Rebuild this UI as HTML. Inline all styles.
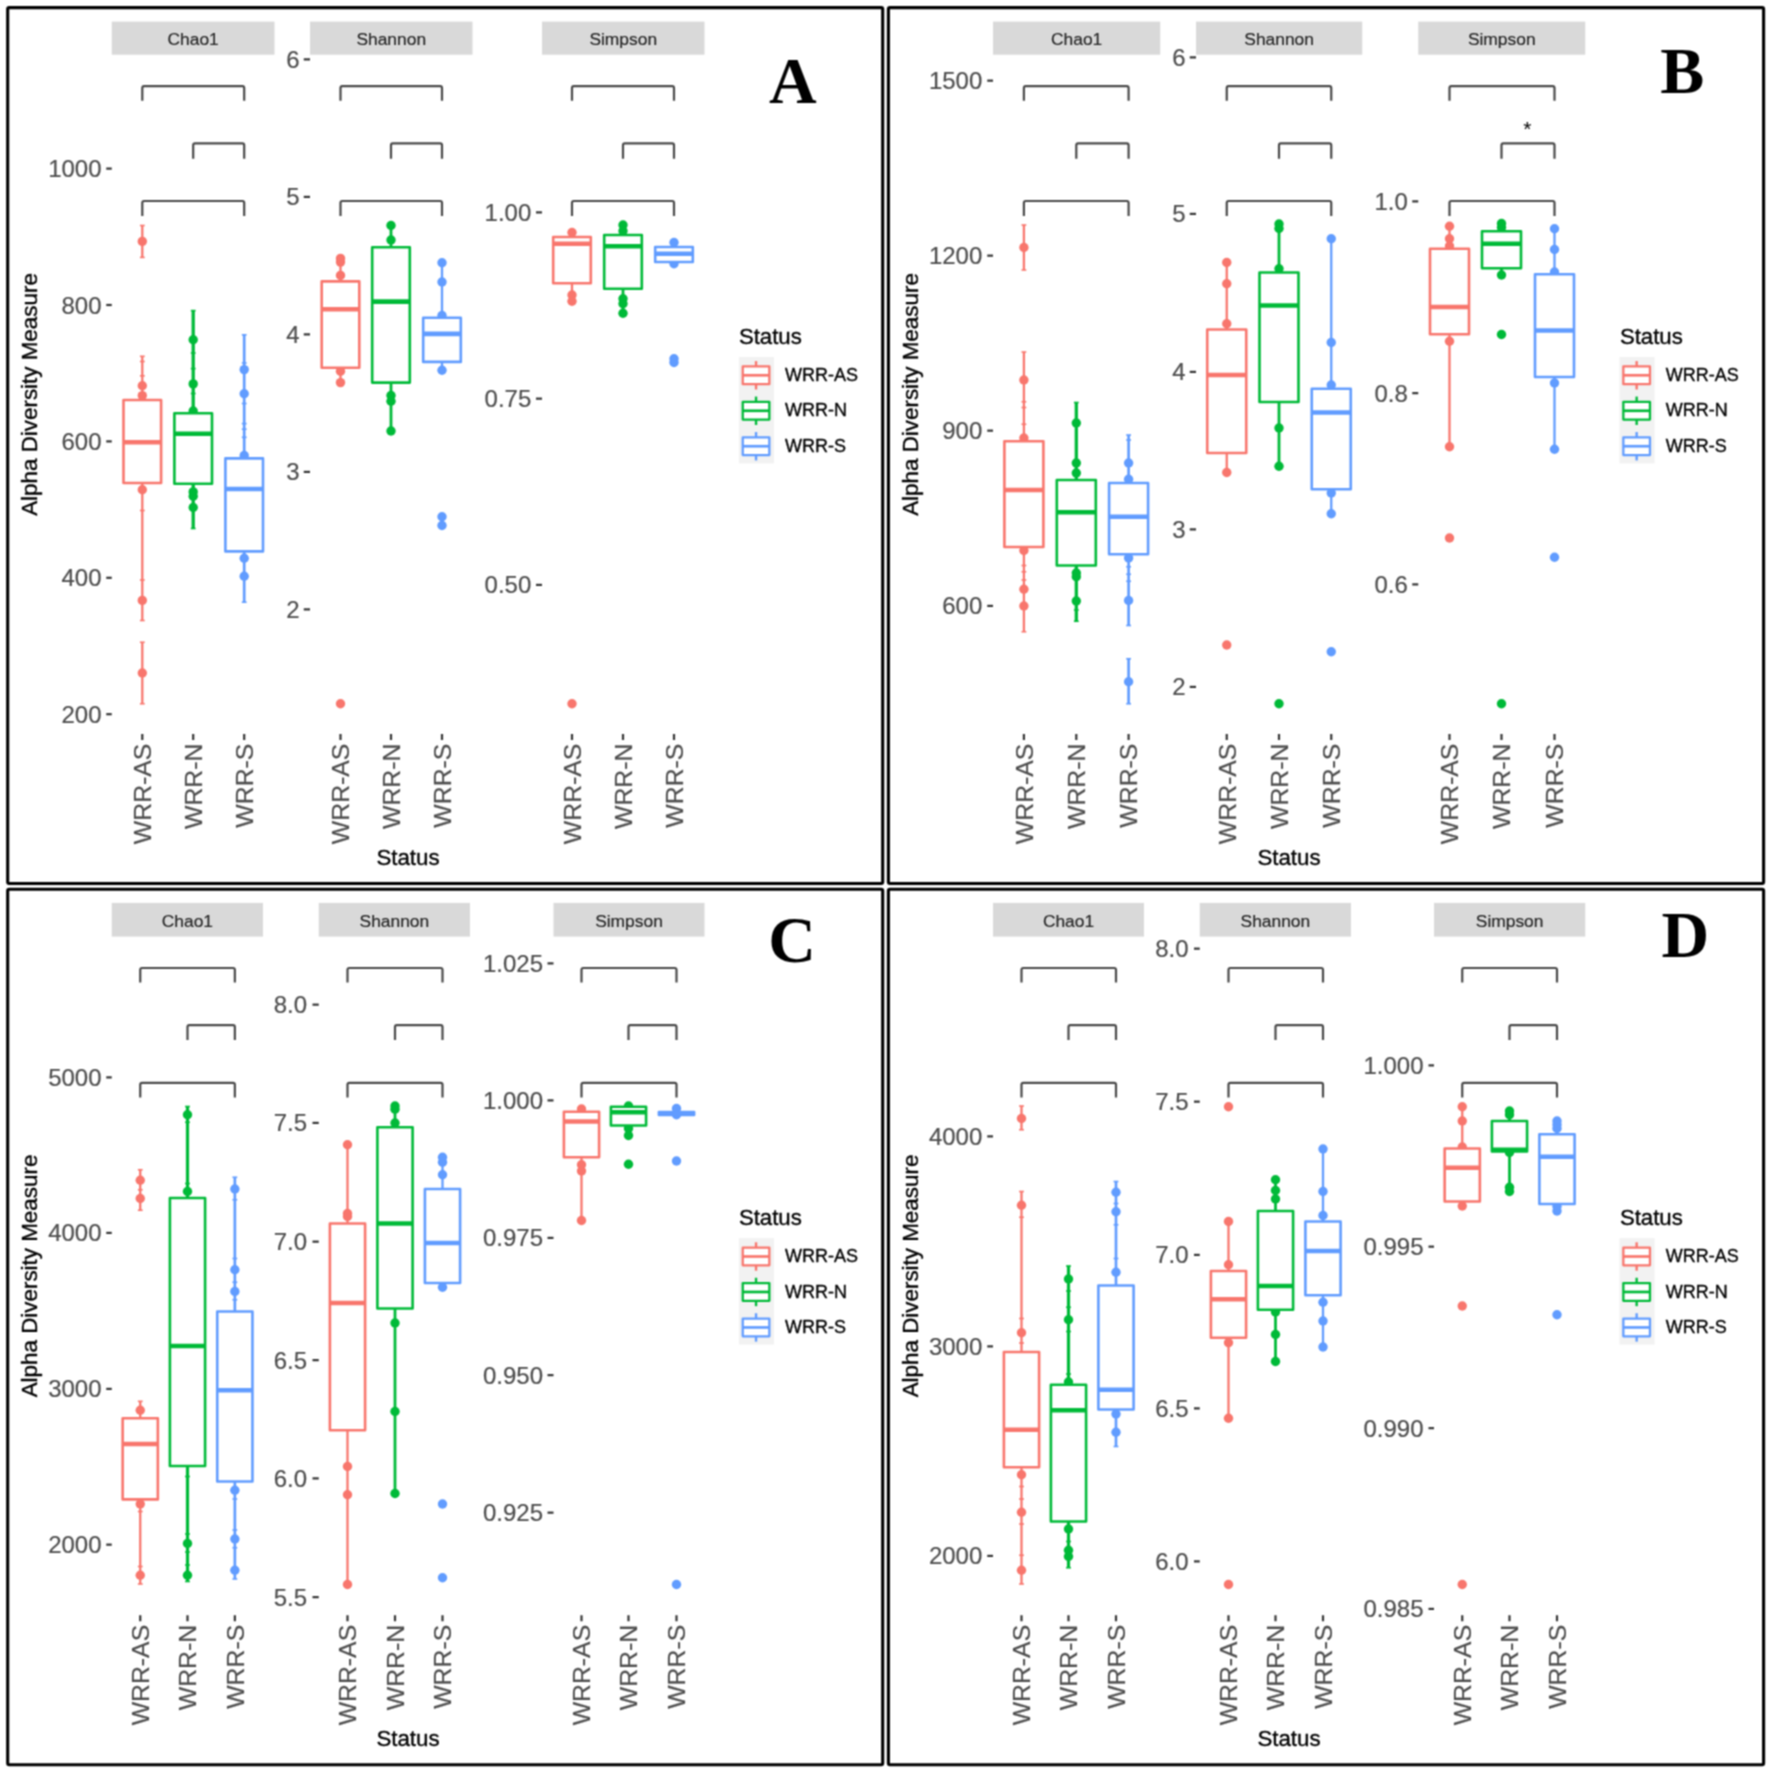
<!DOCTYPE html>
<html><head><meta charset="utf-8"><title>Alpha diversity</title>
<style>
html,body{margin:0;padding:0;background:#fff}
svg{display:block;font-family:"Liberation Sans",sans-serif}
text{stroke-linejoin:round}
.ax{stroke:#4d4d4d;stroke-width:0.2px}.bk{stroke:#000;stroke-width:0.35px}.st{stroke:#222;stroke-width:0.15px}
</style></head><body>
<svg width="1772" height="1773" viewBox="0 0 1772 1773">
<defs><filter id="soft" x="0" y="0" width="1772" height="1773" filterUnits="userSpaceOnUse" color-interpolation-filters="sRGB"><feConvolveMatrix order="3" kernelMatrix="1 2 1 2 4 2 1 2 1" divisor="16" edgeMode="duplicate" preserveAlpha="true"/></filter></defs>
<g filter="url(#soft)">
<rect width="1772" height="1773" fill="#fff"/>
<rect x="7.7" y="7.6" width="875" height="875.9" fill="#fff" stroke="#000" stroke-width="3.1" rx="1.5"/>
<rect x="111.75" y="21.6" width="162.75" height="33.1" fill="#d9d9d9"/>
<text x="193.12" y="45.25" font-size="17.4" fill="#222" class="st" text-anchor="middle">Chao1</text>
<text x="101.55" y="177.19" font-size="24.0" fill="#4d4d4d" class="ax" text-anchor="end">1000</text>
<line x1="106.25" x2="111.75" y1="168.6" y2="168.6" stroke="#333" stroke-width="2.2"/>
<text x="101.55" y="313.59" font-size="24.0" fill="#4d4d4d" class="ax" text-anchor="end">800</text>
<line x1="106.25" x2="111.75" y1="305" y2="305" stroke="#333" stroke-width="2.2"/>
<text x="101.55" y="449.99" font-size="24.0" fill="#4d4d4d" class="ax" text-anchor="end">600</text>
<line x1="106.25" x2="111.75" y1="441.4" y2="441.4" stroke="#333" stroke-width="2.2"/>
<text x="101.55" y="586.39" font-size="24.0" fill="#4d4d4d" class="ax" text-anchor="end">400</text>
<line x1="106.25" x2="111.75" y1="577.8" y2="577.8" stroke="#333" stroke-width="2.2"/>
<text x="101.55" y="722.79" font-size="24.0" fill="#4d4d4d" class="ax" text-anchor="end">200</text>
<line x1="106.25" x2="111.75" y1="714.2" y2="714.2" stroke="#333" stroke-width="2.2"/>
<path d="M142.3 100.8 V88 Q142.3 86.2 144.1 86.2 H242.4 Q244.2 86.2 244.2 88 V100.8" fill="none" stroke="#484848" stroke-width="2.2"/>
<path d="M193.2 158.7 V145.2 Q193.2 143.4 195 143.4 H242.4 Q244.2 143.4 244.2 145.2 V158.7" fill="none" stroke="#484848" stroke-width="2.2"/>
<path d="M142.3 215.9 V202.8 Q142.3 201 144.1 201 H242.4 Q244.2 201 244.2 202.8 V215.9" fill="none" stroke="#484848" stroke-width="2.2"/>
<line x1="142.3" x2="142.3" y1="734" y2="740" stroke="#333" stroke-width="2.2"/>
<text transform="translate(151.18 743.6) rotate(-90)" font-size="24.8" fill="#4d4d4d" class="ax" text-anchor="end">WRR-AS</text>
<line x1="193.2" x2="193.2" y1="734" y2="740" stroke="#333" stroke-width="2.2"/>
<text transform="translate(202.08 743.6) rotate(-90)" font-size="24.8" fill="#4d4d4d" class="ax" text-anchor="end">WRR-N</text>
<line x1="244.2" x2="244.2" y1="734" y2="740" stroke="#333" stroke-width="2.2"/>
<text transform="translate(253.08 743.6) rotate(-90)" font-size="24.8" fill="#4d4d4d" class="ax" text-anchor="end">WRR-S</text>
<line x1="142.3" x2="142.3" y1="225.5" y2="257.4" stroke="#F8766D" stroke-width="2.3"/>
<line x1="139.9" x2="144.7" y1="225.5" y2="225.5" stroke="#F8766D" stroke-width="1.6"/>
<line x1="139.9" x2="144.7" y1="257.4" y2="257.4" stroke="#F8766D" stroke-width="1.6"/>
<line x1="142.3" x2="142.3" y1="356.3" y2="400" stroke="#F8766D" stroke-width="2.3"/>
<line x1="139.9" x2="144.7" y1="356.3" y2="356.3" stroke="#F8766D" stroke-width="1.6"/>
<line x1="142.3" x2="142.3" y1="483" y2="620.5" stroke="#F8766D" stroke-width="2.3"/>
<line x1="139.9" x2="144.7" y1="620.5" y2="620.5" stroke="#F8766D" stroke-width="1.6"/>
<line x1="142.3" x2="142.3" y1="642.25" y2="703.75" stroke="#F8766D" stroke-width="2.3"/>
<line x1="139.9" x2="144.7" y1="642.25" y2="642.25" stroke="#F8766D" stroke-width="1.6"/>
<line x1="139.9" x2="144.7" y1="703.75" y2="703.75" stroke="#F8766D" stroke-width="1.6"/>
<line x1="139.9" x2="144.7" y1="361.5" y2="361.5" stroke="#F8766D" stroke-width="1.6"/>
<line x1="139.9" x2="144.7" y1="375.8" y2="375.8" stroke="#F8766D" stroke-width="1.6"/>
<line x1="139.9" x2="144.7" y1="510.5" y2="510.5" stroke="#F8766D" stroke-width="1.6"/>
<line x1="139.9" x2="144.7" y1="580" y2="580" stroke="#F8766D" stroke-width="1.6"/>
<circle cx="142.3" cy="241.4" r="4.7" fill="#F8766D"/>
<circle cx="142.3" cy="385.7" r="4.7" fill="#F8766D"/>
<circle cx="142.3" cy="395.6" r="4.7" fill="#F8766D"/>
<circle cx="142.3" cy="489.7" r="4.7" fill="#F8766D"/>
<circle cx="142.3" cy="600.4" r="4.7" fill="#F8766D"/>
<circle cx="142.3" cy="673" r="4.7" fill="#F8766D"/>
<rect x="123.5" y="400" width="37.6" height="83" fill="#fff" stroke="#F8766D" stroke-width="2.6" stroke-linejoin="round"/>
<line x1="123.5" x2="161.1" y1="442.2" y2="442.2" stroke="#F8766D" stroke-width="4.6"/>
<line x1="193.2" x2="193.2" y1="310.6" y2="413" stroke="#00BA38" stroke-width="3.3"/>
<line x1="190.8" x2="195.6" y1="310.6" y2="310.6" stroke="#00BA38" stroke-width="1.6"/>
<line x1="193.2" x2="193.2" y1="483.8" y2="528.5" stroke="#00BA38" stroke-width="3.3"/>
<line x1="190.8" x2="195.6" y1="528.5" y2="528.5" stroke="#00BA38" stroke-width="1.6"/>
<line x1="190.8" x2="195.6" y1="353" y2="353" stroke="#00BA38" stroke-width="1.6"/>
<line x1="190.8" x2="195.6" y1="368.6" y2="368.6" stroke="#00BA38" stroke-width="1.6"/>
<line x1="190.8" x2="195.6" y1="393.5" y2="393.5" stroke="#00BA38" stroke-width="1.6"/>
<circle cx="193.2" cy="339.8" r="4.7" fill="#00BA38"/>
<circle cx="193.2" cy="383.9" r="4.7" fill="#00BA38"/>
<circle cx="193.2" cy="411" r="4.7" fill="#00BA38"/>
<circle cx="193.2" cy="491.9" r="4.7" fill="#00BA38"/>
<circle cx="193.2" cy="496.3" r="4.7" fill="#00BA38"/>
<circle cx="193.2" cy="507.5" r="4.7" fill="#00BA38"/>
<rect x="174.4" y="413.3" width="37.6" height="70.5" fill="#fff" stroke="#00BA38" stroke-width="2.6" stroke-linejoin="round"/>
<line x1="174.4" x2="212" y1="433.8" y2="433.8" stroke="#00BA38" stroke-width="4.6"/>
<line x1="244.2" x2="244.2" y1="334.8" y2="458.4" stroke="#619CFF" stroke-width="2.7"/>
<line x1="241.8" x2="246.6" y1="334.8" y2="334.8" stroke="#619CFF" stroke-width="1.6"/>
<line x1="244.2" x2="244.2" y1="551.4" y2="602.2" stroke="#619CFF" stroke-width="2.7"/>
<line x1="241.8" x2="246.6" y1="602.2" y2="602.2" stroke="#619CFF" stroke-width="1.6"/>
<line x1="241.8" x2="246.6" y1="363" y2="363" stroke="#619CFF" stroke-width="1.6"/>
<line x1="241.8" x2="246.6" y1="403.5" y2="403.5" stroke="#619CFF" stroke-width="1.6"/>
<line x1="241.8" x2="246.6" y1="423.6" y2="423.6" stroke="#619CFF" stroke-width="1.6"/>
<line x1="241.8" x2="246.6" y1="429.2" y2="429.2" stroke="#619CFF" stroke-width="1.6"/>
<line x1="241.8" x2="246.6" y1="437.3" y2="437.3" stroke="#619CFF" stroke-width="1.6"/>
<circle cx="244.2" cy="369.6" r="4.7" fill="#619CFF"/>
<circle cx="244.2" cy="393.8" r="4.7" fill="#619CFF"/>
<circle cx="244.2" cy="455.5" r="4.7" fill="#619CFF"/>
<circle cx="244.2" cy="558.2" r="4.7" fill="#619CFF"/>
<circle cx="244.2" cy="576.2" r="4.7" fill="#619CFF"/>
<rect x="225.4" y="458.4" width="37.6" height="93" fill="#fff" stroke="#619CFF" stroke-width="2.6" stroke-linejoin="round"/>
<line x1="225.4" x2="263" y1="489" y2="489" stroke="#619CFF" stroke-width="4.6"/>
<rect x="310" y="21.6" width="162.5" height="33.1" fill="#d9d9d9"/>
<text x="391.25" y="45.25" font-size="17.4" fill="#222" class="st" text-anchor="middle">Shannon</text>
<text x="299.55" y="67.99" font-size="24.0" fill="#4d4d4d" class="ax" text-anchor="end">6</text>
<line x1="303.75" x2="310" y1="59.4" y2="59.4" stroke="#333" stroke-width="2.2"/>
<text x="299.55" y="205.49" font-size="24.0" fill="#4d4d4d" class="ax" text-anchor="end">5</text>
<line x1="303.75" x2="310" y1="196.9" y2="196.9" stroke="#333" stroke-width="2.2"/>
<text x="299.55" y="342.99" font-size="24.0" fill="#4d4d4d" class="ax" text-anchor="end">4</text>
<line x1="303.75" x2="310" y1="334.4" y2="334.4" stroke="#333" stroke-width="2.2"/>
<text x="299.55" y="480.49" font-size="24.0" fill="#4d4d4d" class="ax" text-anchor="end">3</text>
<line x1="303.75" x2="310" y1="471.9" y2="471.9" stroke="#333" stroke-width="2.2"/>
<text x="299.55" y="617.99" font-size="24.0" fill="#4d4d4d" class="ax" text-anchor="end">2</text>
<line x1="303.75" x2="310" y1="609.4" y2="609.4" stroke="#333" stroke-width="2.2"/>
<path d="M340.5 100.8 V88 Q340.5 86.2 342.3 86.2 H440.2 Q442 86.2 442 88 V100.8" fill="none" stroke="#484848" stroke-width="2.2"/>
<path d="M391 158.7 V145.2 Q391 143.4 392.8 143.4 H440.2 Q442 143.4 442 145.2 V158.7" fill="none" stroke="#484848" stroke-width="2.2"/>
<path d="M340.5 215.9 V202.8 Q340.5 201 342.3 201 H440.2 Q442 201 442 202.8 V215.9" fill="none" stroke="#484848" stroke-width="2.2"/>
<line x1="340.5" x2="340.5" y1="734" y2="740" stroke="#333" stroke-width="2.2"/>
<text transform="translate(349.38 743.6) rotate(-90)" font-size="24.8" fill="#4d4d4d" class="ax" text-anchor="end">WRR-AS</text>
<line x1="391" x2="391" y1="734" y2="740" stroke="#333" stroke-width="2.2"/>
<text transform="translate(399.88 743.6) rotate(-90)" font-size="24.8" fill="#4d4d4d" class="ax" text-anchor="end">WRR-N</text>
<line x1="442" x2="442" y1="734" y2="740" stroke="#333" stroke-width="2.2"/>
<text transform="translate(450.88 743.6) rotate(-90)" font-size="24.8" fill="#4d4d4d" class="ax" text-anchor="end">WRR-S</text>
<line x1="340.5" x2="340.5" y1="258.4" y2="281.4" stroke="#F8766D" stroke-width="2.3"/>
<line x1="340.5" x2="340.5" y1="367.7" y2="382.6" stroke="#F8766D" stroke-width="2.3"/>
<circle cx="340.5" cy="258.4" r="4.7" fill="#F8766D"/>
<circle cx="340.5" cy="262.1" r="4.7" fill="#F8766D"/>
<circle cx="340.5" cy="275.4" r="4.7" fill="#F8766D"/>
<circle cx="340.5" cy="371.2" r="4.7" fill="#F8766D"/>
<circle cx="340.5" cy="382.6" r="4.7" fill="#F8766D"/>
<circle cx="340.5" cy="703.75" r="4.7" fill="#F8766D"/>
<rect x="321.7" y="281.4" width="37.6" height="86.3" fill="#fff" stroke="#F8766D" stroke-width="2.6" stroke-linejoin="round"/>
<line x1="321.7" x2="359.3" y1="309.3" y2="309.3" stroke="#F8766D" stroke-width="4.6"/>
<line x1="391" x2="391" y1="225.5" y2="247.2" stroke="#00BA38" stroke-width="2.8"/>
<line x1="391" x2="391" y1="382.6" y2="431" stroke="#00BA38" stroke-width="2.8"/>
<circle cx="391" cy="225.5" r="4.7" fill="#00BA38"/>
<circle cx="391" cy="240" r="4.7" fill="#00BA38"/>
<circle cx="391" cy="395.5" r="4.7" fill="#00BA38"/>
<circle cx="391" cy="401.2" r="4.7" fill="#00BA38"/>
<circle cx="391" cy="431" r="4.7" fill="#00BA38"/>
<rect x="372.2" y="247.2" width="37.6" height="135.4" fill="#fff" stroke="#00BA38" stroke-width="2.6" stroke-linejoin="round"/>
<line x1="372.2" x2="409.8" y1="301.6" y2="301.6" stroke="#00BA38" stroke-width="4.6"/>
<line x1="442" x2="442" y1="262.7" y2="317.8" stroke="#619CFF" stroke-width="2.3"/>
<line x1="442" x2="442" y1="361.9" y2="370.2" stroke="#619CFF" stroke-width="2.3"/>
<circle cx="442" cy="262.7" r="4.7" fill="#619CFF"/>
<circle cx="442" cy="282" r="4.7" fill="#619CFF"/>
<circle cx="442" cy="315.5" r="4.7" fill="#619CFF"/>
<circle cx="442" cy="370.2" r="4.7" fill="#619CFF"/>
<circle cx="442" cy="516.75" r="4.7" fill="#619CFF"/>
<circle cx="442" cy="525.5" r="4.7" fill="#619CFF"/>
<rect x="423.2" y="317.8" width="37.6" height="44.1" fill="#fff" stroke="#619CFF" stroke-width="2.6" stroke-linejoin="round"/>
<line x1="423.2" x2="460.8" y1="333.9" y2="333.9" stroke="#619CFF" stroke-width="4.6"/>
<rect x="542" y="21.6" width="162.5" height="33.1" fill="#d9d9d9"/>
<text x="623.25" y="45.25" font-size="17.4" fill="#222" class="st" text-anchor="middle">Simpson</text>
<text x="531.3" y="220.99" font-size="24.0" fill="#4d4d4d" class="ax" text-anchor="end">1.00</text>
<line x1="536" x2="542" y1="212.4" y2="212.4" stroke="#333" stroke-width="2.2"/>
<text x="531.3" y="407.24" font-size="24.0" fill="#4d4d4d" class="ax" text-anchor="end">0.75</text>
<line x1="536" x2="542" y1="398.65" y2="398.65" stroke="#333" stroke-width="2.2"/>
<text x="531.3" y="593.49" font-size="24.0" fill="#4d4d4d" class="ax" text-anchor="end">0.50</text>
<line x1="536" x2="542" y1="584.9" y2="584.9" stroke="#333" stroke-width="2.2"/>
<path d="M572 100.8 V88 Q572 86.2 573.8 86.2 H672.2 Q674 86.2 674 88 V100.8" fill="none" stroke="#484848" stroke-width="2.2"/>
<path d="M623 158.7 V145.2 Q623 143.4 624.8 143.4 H672.2 Q674 143.4 674 145.2 V158.7" fill="none" stroke="#484848" stroke-width="2.2"/>
<path d="M572 215.9 V202.8 Q572 201 573.8 201 H672.2 Q674 201 674 202.8 V215.9" fill="none" stroke="#484848" stroke-width="2.2"/>
<line x1="572" x2="572" y1="734" y2="740" stroke="#333" stroke-width="2.2"/>
<text transform="translate(580.88 743.6) rotate(-90)" font-size="24.8" fill="#4d4d4d" class="ax" text-anchor="end">WRR-AS</text>
<line x1="623" x2="623" y1="734" y2="740" stroke="#333" stroke-width="2.2"/>
<text transform="translate(631.88 743.6) rotate(-90)" font-size="24.8" fill="#4d4d4d" class="ax" text-anchor="end">WRR-N</text>
<line x1="674" x2="674" y1="734" y2="740" stroke="#333" stroke-width="2.2"/>
<text transform="translate(682.88 743.6) rotate(-90)" font-size="24.8" fill="#4d4d4d" class="ax" text-anchor="end">WRR-S</text>
<line x1="572" x2="572" y1="232.5" y2="237" stroke="#F8766D" stroke-width="2.3"/>
<line x1="572" x2="572" y1="283.25" y2="301.25" stroke="#F8766D" stroke-width="2.3"/>
<circle cx="572" cy="232.5" r="4.7" fill="#F8766D"/>
<circle cx="572" cy="295" r="4.7" fill="#F8766D"/>
<circle cx="572" cy="301.25" r="4.7" fill="#F8766D"/>
<circle cx="572" cy="703.75" r="4.7" fill="#F8766D"/>
<rect x="553.2" y="237" width="37.6" height="46.25" fill="#fff" stroke="#F8766D" stroke-width="2.6" stroke-linejoin="round"/>
<line x1="553.2" x2="590.8" y1="243.75" y2="243.75" stroke="#F8766D" stroke-width="4.6"/>
<line x1="623" x2="623" y1="225" y2="235" stroke="#00BA38" stroke-width="2.8"/>
<line x1="623" x2="623" y1="288.75" y2="313.25" stroke="#00BA38" stroke-width="2.8"/>
<circle cx="623" cy="225" r="4.7" fill="#00BA38"/>
<circle cx="623" cy="231" r="4.7" fill="#00BA38"/>
<circle cx="623" cy="298.75" r="4.7" fill="#00BA38"/>
<circle cx="623" cy="303.75" r="4.7" fill="#00BA38"/>
<circle cx="623" cy="313.25" r="4.7" fill="#00BA38"/>
<rect x="604.2" y="235" width="37.6" height="53.75" fill="#fff" stroke="#00BA38" stroke-width="2.6" stroke-linejoin="round"/>
<line x1="604.2" x2="641.8" y1="246.25" y2="246.25" stroke="#00BA38" stroke-width="4.6"/>
<circle cx="674" cy="242.5" r="4.7" fill="#619CFF"/>
<circle cx="674" cy="263.75" r="4.7" fill="#619CFF"/>
<circle cx="674" cy="358.75" r="4.7" fill="#619CFF"/>
<circle cx="674" cy="362.5" r="4.7" fill="#619CFF"/>
<rect x="655.2" y="247" width="37.6" height="15" fill="#fff" stroke="#619CFF" stroke-width="2.6" stroke-linejoin="round"/>
<line x1="655.2" x2="692.8" y1="253.75" y2="253.75" stroke="#619CFF" stroke-width="4.6"/>
<text transform="translate(37 394.5) rotate(-90)" font-size="22.4" fill="#000" class="bk" text-anchor="middle">Alpha Diversity Measure</text>
<text x="408" y="865.4" font-size="22.3" fill="#000" class="bk" text-anchor="middle">Status</text>
<text x="738.9" y="343.7" font-size="22.2" fill="#000" class="bk">Status</text>
<rect x="738.9" y="357" width="35.1" height="106.4" fill="#f2f2f2"/>
<line x1="756.05" x2="756.05" y1="361.1" y2="389.5" stroke="#F8766D" stroke-width="2.4"/>
<rect x="742.75" y="366.45" width="26.6" height="17.7" fill="#fff" stroke="#F8766D" stroke-width="2.3" stroke-linejoin="round"/>
<line x1="742.75" x2="769.35" y1="375.3" y2="375.3" stroke="#F8766D" stroke-width="2.7"/>
<text x="785" y="380.9" font-size="18" fill="#000" class="bk">WRR-AS</text>
<line x1="756.05" x2="756.05" y1="396.57" y2="424.97" stroke="#00BA38" stroke-width="2.4"/>
<rect x="742.75" y="401.92" width="26.6" height="17.7" fill="#fff" stroke="#00BA38" stroke-width="2.3" stroke-linejoin="round"/>
<line x1="742.75" x2="769.35" y1="410.77" y2="410.77" stroke="#00BA38" stroke-width="2.7"/>
<text x="785" y="416.37" font-size="18" fill="#000" class="bk">WRR-N</text>
<line x1="756.05" x2="756.05" y1="432.04" y2="460.44" stroke="#619CFF" stroke-width="2.4"/>
<rect x="742.75" y="437.39" width="26.6" height="17.7" fill="#fff" stroke="#619CFF" stroke-width="2.3" stroke-linejoin="round"/>
<line x1="742.75" x2="769.35" y1="446.24" y2="446.24" stroke="#619CFF" stroke-width="2.7"/>
<text x="785" y="451.84" font-size="18" fill="#000" class="bk">WRR-S</text>
<text x="769" y="102.5" font-size="66" font-weight="bold" fill="#000" style="font-family:'Liberation Serif',serif">A</text>
<rect x="888.4" y="7.6" width="875.2" height="875.9" fill="#fff" stroke="#000" stroke-width="3.1" rx="1.5"/>
<rect x="993" y="21.6" width="167.25" height="33.1" fill="#d9d9d9"/>
<text x="1076.62" y="45.25" font-size="17.4" fill="#222" class="st" text-anchor="middle">Chao1</text>
<text x="982.3" y="89.24" font-size="24.0" fill="#4d4d4d" class="ax" text-anchor="end">1500</text>
<line x1="987.25" x2="993" y1="80.65" y2="80.65" stroke="#333" stroke-width="2.2"/>
<text x="982.3" y="264.24" font-size="24.0" fill="#4d4d4d" class="ax" text-anchor="end">1200</text>
<line x1="987.25" x2="993" y1="255.65" y2="255.65" stroke="#333" stroke-width="2.2"/>
<text x="982.3" y="439.24" font-size="24.0" fill="#4d4d4d" class="ax" text-anchor="end">900</text>
<line x1="987.25" x2="993" y1="430.65" y2="430.65" stroke="#333" stroke-width="2.2"/>
<text x="982.3" y="614.49" font-size="24.0" fill="#4d4d4d" class="ax" text-anchor="end">600</text>
<line x1="987.25" x2="993" y1="605.9" y2="605.9" stroke="#333" stroke-width="2.2"/>
<path d="M1023.9 100.8 V88 Q1023.9 86.2 1025.7 86.2 H1126.8 Q1128.6 86.2 1128.6 88 V100.8" fill="none" stroke="#484848" stroke-width="2.2"/>
<path d="M1076.3 158.7 V145.2 Q1076.3 143.4 1078.1 143.4 H1126.8 Q1128.6 143.4 1128.6 145.2 V158.7" fill="none" stroke="#484848" stroke-width="2.2"/>
<path d="M1023.9 215.9 V202.8 Q1023.9 201 1025.7 201 H1126.8 Q1128.6 201 1128.6 202.8 V215.9" fill="none" stroke="#484848" stroke-width="2.2"/>
<line x1="1023.9" x2="1023.9" y1="734" y2="740" stroke="#333" stroke-width="2.2"/>
<text transform="translate(1032.78 743.6) rotate(-90)" font-size="24.8" fill="#4d4d4d" class="ax" text-anchor="end">WRR-AS</text>
<line x1="1076.3" x2="1076.3" y1="734" y2="740" stroke="#333" stroke-width="2.2"/>
<text transform="translate(1085.18 743.6) rotate(-90)" font-size="24.8" fill="#4d4d4d" class="ax" text-anchor="end">WRR-N</text>
<line x1="1128.6" x2="1128.6" y1="734" y2="740" stroke="#333" stroke-width="2.2"/>
<text transform="translate(1137.48 743.6) rotate(-90)" font-size="24.8" fill="#4d4d4d" class="ax" text-anchor="end">WRR-S</text>
<line x1="1023.9" x2="1023.9" y1="225" y2="270" stroke="#F8766D" stroke-width="2.3"/>
<line x1="1021.5" x2="1026.3" y1="225" y2="225" stroke="#F8766D" stroke-width="1.6"/>
<line x1="1021.5" x2="1026.3" y1="270" y2="270" stroke="#F8766D" stroke-width="1.6"/>
<line x1="1023.9" x2="1023.9" y1="352" y2="441.25" stroke="#F8766D" stroke-width="2.3"/>
<line x1="1021.5" x2="1026.3" y1="352" y2="352" stroke="#F8766D" stroke-width="1.6"/>
<line x1="1023.9" x2="1023.9" y1="547" y2="631.75" stroke="#F8766D" stroke-width="2.3"/>
<line x1="1021.5" x2="1026.3" y1="631.75" y2="631.75" stroke="#F8766D" stroke-width="1.6"/>
<line x1="1021.5" x2="1026.3" y1="401.75" y2="401.75" stroke="#F8766D" stroke-width="1.6"/>
<line x1="1021.5" x2="1026.3" y1="407.5" y2="407.5" stroke="#F8766D" stroke-width="1.6"/>
<line x1="1021.5" x2="1026.3" y1="424.25" y2="424.25" stroke="#F8766D" stroke-width="1.6"/>
<line x1="1021.5" x2="1026.3" y1="565.5" y2="565.5" stroke="#F8766D" stroke-width="1.6"/>
<line x1="1021.5" x2="1026.3" y1="571.75" y2="571.75" stroke="#F8766D" stroke-width="1.6"/>
<line x1="1021.5" x2="1026.3" y1="580" y2="580" stroke="#F8766D" stroke-width="1.6"/>
<circle cx="1023.9" cy="247.5" r="4.7" fill="#F8766D"/>
<circle cx="1023.9" cy="380" r="4.7" fill="#F8766D"/>
<circle cx="1023.9" cy="438" r="4.7" fill="#F8766D"/>
<circle cx="1023.9" cy="550.5" r="4.7" fill="#F8766D"/>
<circle cx="1023.9" cy="589.25" r="4.7" fill="#F8766D"/>
<circle cx="1023.9" cy="606" r="4.7" fill="#F8766D"/>
<rect x="1004.4" y="441.25" width="39" height="105.75" fill="#fff" stroke="#F8766D" stroke-width="2.6" stroke-linejoin="round"/>
<line x1="1004.4" x2="1043.4" y1="490" y2="490" stroke="#F8766D" stroke-width="4.6"/>
<line x1="1076.3" x2="1076.3" y1="402.5" y2="480" stroke="#00BA38" stroke-width="3.3"/>
<line x1="1073.9" x2="1078.7" y1="402.5" y2="402.5" stroke="#00BA38" stroke-width="1.6"/>
<line x1="1076.3" x2="1076.3" y1="565.5" y2="621.25" stroke="#00BA38" stroke-width="3.3"/>
<line x1="1073.9" x2="1078.7" y1="621.25" y2="621.25" stroke="#00BA38" stroke-width="1.6"/>
<line x1="1073.9" x2="1078.7" y1="610" y2="610" stroke="#00BA38" stroke-width="1.6"/>
<circle cx="1076.3" cy="423" r="4.7" fill="#00BA38"/>
<circle cx="1076.3" cy="463" r="4.7" fill="#00BA38"/>
<circle cx="1076.3" cy="473" r="4.7" fill="#00BA38"/>
<circle cx="1076.3" cy="573" r="4.7" fill="#00BA38"/>
<circle cx="1076.3" cy="576.75" r="4.7" fill="#00BA38"/>
<circle cx="1076.3" cy="601" r="4.7" fill="#00BA38"/>
<rect x="1056.8" y="480" width="39" height="85.5" fill="#fff" stroke="#00BA38" stroke-width="2.6" stroke-linejoin="round"/>
<line x1="1056.8" x2="1095.8" y1="512.25" y2="512.25" stroke="#00BA38" stroke-width="4.6"/>
<line x1="1128.6" x2="1128.6" y1="435" y2="483" stroke="#619CFF" stroke-width="2.7"/>
<line x1="1126.2" x2="1131" y1="435" y2="435" stroke="#619CFF" stroke-width="1.6"/>
<line x1="1128.6" x2="1128.6" y1="554.25" y2="625.5" stroke="#619CFF" stroke-width="2.7"/>
<line x1="1126.2" x2="1131" y1="625.5" y2="625.5" stroke="#619CFF" stroke-width="1.6"/>
<line x1="1128.6" x2="1128.6" y1="658.75" y2="703.75" stroke="#619CFF" stroke-width="2.7"/>
<line x1="1126.2" x2="1131" y1="658.75" y2="658.75" stroke="#619CFF" stroke-width="1.6"/>
<line x1="1126.2" x2="1131" y1="703.75" y2="703.75" stroke="#619CFF" stroke-width="1.6"/>
<line x1="1126.2" x2="1131" y1="440" y2="440" stroke="#619CFF" stroke-width="1.6"/>
<line x1="1126.2" x2="1131" y1="566.75" y2="566.75" stroke="#619CFF" stroke-width="1.6"/>
<line x1="1126.2" x2="1131" y1="574.25" y2="574.25" stroke="#619CFF" stroke-width="1.6"/>
<line x1="1126.2" x2="1131" y1="581.25" y2="581.25" stroke="#619CFF" stroke-width="1.6"/>
<circle cx="1128.6" cy="463" r="4.7" fill="#619CFF"/>
<circle cx="1128.6" cy="479.25" r="4.7" fill="#619CFF"/>
<circle cx="1128.6" cy="558" r="4.7" fill="#619CFF"/>
<circle cx="1128.6" cy="600.5" r="4.7" fill="#619CFF"/>
<circle cx="1128.6" cy="681.75" r="4.7" fill="#619CFF"/>
<rect x="1109.1" y="483" width="39" height="71.25" fill="#fff" stroke="#619CFF" stroke-width="2.6" stroke-linejoin="round"/>
<line x1="1109.1" x2="1148.1" y1="516.75" y2="516.75" stroke="#619CFF" stroke-width="4.6"/>
<rect x="1196" y="21.6" width="166.25" height="33.1" fill="#d9d9d9"/>
<text x="1279.12" y="45.25" font-size="17.4" fill="#222" class="st" text-anchor="middle">Shannon</text>
<text x="1185.55" y="65.99" font-size="24.0" fill="#4d4d4d" class="ax" text-anchor="end">6</text>
<line x1="1189.75" x2="1196" y1="57.4" y2="57.4" stroke="#333" stroke-width="2.2"/>
<text x="1185.55" y="222.49" font-size="24.0" fill="#4d4d4d" class="ax" text-anchor="end">5</text>
<line x1="1189.75" x2="1196" y1="213.9" y2="213.9" stroke="#333" stroke-width="2.2"/>
<text x="1185.55" y="380.49" font-size="24.0" fill="#4d4d4d" class="ax" text-anchor="end">4</text>
<line x1="1189.75" x2="1196" y1="371.9" y2="371.9" stroke="#333" stroke-width="2.2"/>
<text x="1185.55" y="537.99" font-size="24.0" fill="#4d4d4d" class="ax" text-anchor="end">3</text>
<line x1="1189.75" x2="1196" y1="529.4" y2="529.4" stroke="#333" stroke-width="2.2"/>
<text x="1185.55" y="695.49" font-size="24.0" fill="#4d4d4d" class="ax" text-anchor="end">2</text>
<line x1="1189.75" x2="1196" y1="686.9" y2="686.9" stroke="#333" stroke-width="2.2"/>
<path d="M1226.75 100.8 V88 Q1226.75 86.2 1228.55 86.2 H1329.45 Q1331.25 86.2 1331.25 88 V100.8" fill="none" stroke="#484848" stroke-width="2.2"/>
<path d="M1279 158.7 V145.2 Q1279 143.4 1280.8 143.4 H1329.45 Q1331.25 143.4 1331.25 145.2 V158.7" fill="none" stroke="#484848" stroke-width="2.2"/>
<path d="M1226.75 215.9 V202.8 Q1226.75 201 1228.55 201 H1329.45 Q1331.25 201 1331.25 202.8 V215.9" fill="none" stroke="#484848" stroke-width="2.2"/>
<line x1="1226.75" x2="1226.75" y1="734" y2="740" stroke="#333" stroke-width="2.2"/>
<text transform="translate(1235.63 743.6) rotate(-90)" font-size="24.8" fill="#4d4d4d" class="ax" text-anchor="end">WRR-AS</text>
<line x1="1279" x2="1279" y1="734" y2="740" stroke="#333" stroke-width="2.2"/>
<text transform="translate(1287.88 743.6) rotate(-90)" font-size="24.8" fill="#4d4d4d" class="ax" text-anchor="end">WRR-N</text>
<line x1="1331.25" x2="1331.25" y1="734" y2="740" stroke="#333" stroke-width="2.2"/>
<text transform="translate(1340.13 743.6) rotate(-90)" font-size="24.8" fill="#4d4d4d" class="ax" text-anchor="end">WRR-S</text>
<line x1="1226.75" x2="1226.75" y1="262.5" y2="329.5" stroke="#F8766D" stroke-width="2.3"/>
<line x1="1226.75" x2="1226.75" y1="453" y2="472.5" stroke="#F8766D" stroke-width="2.3"/>
<circle cx="1226.75" cy="262.5" r="4.7" fill="#F8766D"/>
<circle cx="1226.75" cy="283.75" r="4.7" fill="#F8766D"/>
<circle cx="1226.75" cy="323.75" r="4.7" fill="#F8766D"/>
<circle cx="1226.75" cy="472.5" r="4.7" fill="#F8766D"/>
<circle cx="1226.75" cy="645" r="4.7" fill="#F8766D"/>
<rect x="1207.25" y="329.5" width="39" height="123.5" fill="#fff" stroke="#F8766D" stroke-width="2.6" stroke-linejoin="round"/>
<line x1="1207.25" x2="1246.25" y1="375" y2="375" stroke="#F8766D" stroke-width="4.6"/>
<line x1="1279" x2="1279" y1="224" y2="272.5" stroke="#00BA38" stroke-width="2.8"/>
<line x1="1279" x2="1279" y1="402" y2="466.25" stroke="#00BA38" stroke-width="2.8"/>
<circle cx="1279" cy="224" r="4.7" fill="#00BA38"/>
<circle cx="1279" cy="228.5" r="4.7" fill="#00BA38"/>
<circle cx="1279" cy="268.75" r="4.7" fill="#00BA38"/>
<circle cx="1279" cy="428" r="4.7" fill="#00BA38"/>
<circle cx="1279" cy="466.25" r="4.7" fill="#00BA38"/>
<circle cx="1279" cy="703.75" r="4.7" fill="#00BA38"/>
<rect x="1259.5" y="272.5" width="39" height="129.5" fill="#fff" stroke="#00BA38" stroke-width="2.6" stroke-linejoin="round"/>
<line x1="1259.5" x2="1298.5" y1="305.5" y2="305.5" stroke="#00BA38" stroke-width="4.6"/>
<line x1="1331.25" x2="1331.25" y1="238.75" y2="388.75" stroke="#619CFF" stroke-width="2.3"/>
<line x1="1331.25" x2="1331.25" y1="489.25" y2="513.75" stroke="#619CFF" stroke-width="2.3"/>
<circle cx="1331.25" cy="238.75" r="4.7" fill="#619CFF"/>
<circle cx="1331.25" cy="342.5" r="4.7" fill="#619CFF"/>
<circle cx="1331.25" cy="385" r="4.7" fill="#619CFF"/>
<circle cx="1331.25" cy="493" r="4.7" fill="#619CFF"/>
<circle cx="1331.25" cy="513.75" r="4.7" fill="#619CFF"/>
<circle cx="1331.25" cy="651.75" r="4.7" fill="#619CFF"/>
<rect x="1311.75" y="388.75" width="39" height="100.5" fill="#fff" stroke="#619CFF" stroke-width="2.6" stroke-linejoin="round"/>
<line x1="1311.75" x2="1350.75" y1="412.5" y2="412.5" stroke="#619CFF" stroke-width="4.6"/>
<rect x="1418.25" y="21.6" width="167" height="33.1" fill="#d9d9d9"/>
<text x="1501.75" y="45.25" font-size="17.4" fill="#222" class="st" text-anchor="middle">Simpson</text>
<text x="1407.8" y="209.99" font-size="24.0" fill="#4d4d4d" class="ax" text-anchor="end">1.0</text>
<line x1="1412.25" x2="1418.25" y1="201.4" y2="201.4" stroke="#333" stroke-width="2.2"/>
<text x="1407.8" y="401.74" font-size="24.0" fill="#4d4d4d" class="ax" text-anchor="end">0.8</text>
<line x1="1412.25" x2="1418.25" y1="393.15" y2="393.15" stroke="#333" stroke-width="2.2"/>
<text x="1407.8" y="592.99" font-size="24.0" fill="#4d4d4d" class="ax" text-anchor="end">0.6</text>
<line x1="1412.25" x2="1418.25" y1="584.4" y2="584.4" stroke="#333" stroke-width="2.2"/>
<path d="M1449.5 100.8 V88 Q1449.5 86.2 1451.3 86.2 H1552.7 Q1554.5 86.2 1554.5 88 V100.8" fill="none" stroke="#484848" stroke-width="2.2"/>
<path d="M1501.5 158.7 V145.2 Q1501.5 143.4 1503.3 143.4 H1552.7 Q1554.5 143.4 1554.5 145.2 V158.7" fill="none" stroke="#484848" stroke-width="2.2"/>
<path d="M1449.5 215.9 V202.8 Q1449.5 201 1451.3 201 H1552.7 Q1554.5 201 1554.5 202.8 V215.9" fill="none" stroke="#484848" stroke-width="2.2"/>
<text x="1527.25" y="135.55" font-size="21" fill="#000" text-anchor="middle">*</text>
<line x1="1449.5" x2="1449.5" y1="734" y2="740" stroke="#333" stroke-width="2.2"/>
<text transform="translate(1458.38 743.6) rotate(-90)" font-size="24.8" fill="#4d4d4d" class="ax" text-anchor="end">WRR-AS</text>
<line x1="1501.5" x2="1501.5" y1="734" y2="740" stroke="#333" stroke-width="2.2"/>
<text transform="translate(1510.38 743.6) rotate(-90)" font-size="24.8" fill="#4d4d4d" class="ax" text-anchor="end">WRR-N</text>
<line x1="1554.5" x2="1554.5" y1="734" y2="740" stroke="#333" stroke-width="2.2"/>
<text transform="translate(1563.38 743.6) rotate(-90)" font-size="24.8" fill="#4d4d4d" class="ax" text-anchor="end">WRR-S</text>
<line x1="1449.5" x2="1449.5" y1="226.25" y2="248.75" stroke="#F8766D" stroke-width="2.3"/>
<line x1="1449.5" x2="1449.5" y1="334.25" y2="446.75" stroke="#F8766D" stroke-width="2.3"/>
<circle cx="1449.5" cy="226.25" r="4.7" fill="#F8766D"/>
<circle cx="1449.5" cy="238.75" r="4.7" fill="#F8766D"/>
<circle cx="1449.5" cy="246" r="4.7" fill="#F8766D"/>
<circle cx="1449.5" cy="341.25" r="4.7" fill="#F8766D"/>
<circle cx="1449.5" cy="446.75" r="4.7" fill="#F8766D"/>
<circle cx="1449.5" cy="538" r="4.7" fill="#F8766D"/>
<rect x="1430" y="248.75" width="39" height="85.5" fill="#fff" stroke="#F8766D" stroke-width="2.6" stroke-linejoin="round"/>
<line x1="1430" x2="1469" y1="307" y2="307" stroke="#F8766D" stroke-width="4.6"/>
<line x1="1501.5" x2="1501.5" y1="223.5" y2="231" stroke="#00BA38" stroke-width="2.8"/>
<line x1="1501.5" x2="1501.5" y1="268" y2="275" stroke="#00BA38" stroke-width="2.8"/>
<circle cx="1501.5" cy="223.5" r="4.7" fill="#00BA38"/>
<circle cx="1501.5" cy="227.5" r="4.7" fill="#00BA38"/>
<circle cx="1501.5" cy="275" r="4.7" fill="#00BA38"/>
<circle cx="1501.5" cy="334.5" r="4.7" fill="#00BA38"/>
<circle cx="1501.5" cy="703.75" r="4.7" fill="#00BA38"/>
<rect x="1482" y="231.25" width="39" height="37" fill="#fff" stroke="#00BA38" stroke-width="2.6" stroke-linejoin="round"/>
<line x1="1482" x2="1521" y1="243.75" y2="243.75" stroke="#00BA38" stroke-width="4.6"/>
<line x1="1554.5" x2="1554.5" y1="228.75" y2="274.25" stroke="#619CFF" stroke-width="2.3"/>
<line x1="1554.5" x2="1554.5" y1="377" y2="449.25" stroke="#619CFF" stroke-width="2.3"/>
<circle cx="1554.5" cy="228.75" r="4.7" fill="#619CFF"/>
<circle cx="1554.5" cy="249.5" r="4.7" fill="#619CFF"/>
<circle cx="1554.5" cy="272" r="4.7" fill="#619CFF"/>
<circle cx="1554.5" cy="383" r="4.7" fill="#619CFF"/>
<circle cx="1554.5" cy="449.25" r="4.7" fill="#619CFF"/>
<circle cx="1554.5" cy="557.25" r="4.7" fill="#619CFF"/>
<rect x="1535" y="274.25" width="39" height="102.75" fill="#fff" stroke="#619CFF" stroke-width="2.6" stroke-linejoin="round"/>
<line x1="1535" x2="1574" y1="330.5" y2="330.5" stroke="#619CFF" stroke-width="4.6"/>
<text transform="translate(917.8 394.5) rotate(-90)" font-size="22.4" fill="#000" class="bk" text-anchor="middle">Alpha Diversity Measure</text>
<text x="1289" y="865.4" font-size="22.3" fill="#000" class="bk" text-anchor="middle">Status</text>
<text x="1619.9" y="343.7" font-size="22.2" fill="#000" class="bk">Status</text>
<rect x="1619.5" y="357" width="35.1" height="106.4" fill="#f2f2f2"/>
<line x1="1636.65" x2="1636.65" y1="361.1" y2="389.5" stroke="#F8766D" stroke-width="2.4"/>
<rect x="1623.35" y="366.45" width="26.6" height="17.7" fill="#fff" stroke="#F8766D" stroke-width="2.3" stroke-linejoin="round"/>
<line x1="1623.35" x2="1649.95" y1="375.3" y2="375.3" stroke="#F8766D" stroke-width="2.7"/>
<text x="1665.8" y="380.9" font-size="18" fill="#000" class="bk">WRR-AS</text>
<line x1="1636.65" x2="1636.65" y1="396.57" y2="424.97" stroke="#00BA38" stroke-width="2.4"/>
<rect x="1623.35" y="401.92" width="26.6" height="17.7" fill="#fff" stroke="#00BA38" stroke-width="2.3" stroke-linejoin="round"/>
<line x1="1623.35" x2="1649.95" y1="410.77" y2="410.77" stroke="#00BA38" stroke-width="2.7"/>
<text x="1665.8" y="416.37" font-size="18" fill="#000" class="bk">WRR-N</text>
<line x1="1636.65" x2="1636.65" y1="432.04" y2="460.44" stroke="#619CFF" stroke-width="2.4"/>
<rect x="1623.35" y="437.39" width="26.6" height="17.7" fill="#fff" stroke="#619CFF" stroke-width="2.3" stroke-linejoin="round"/>
<line x1="1623.35" x2="1649.95" y1="446.24" y2="446.24" stroke="#619CFF" stroke-width="2.7"/>
<text x="1665.8" y="451.84" font-size="18" fill="#000" class="bk">WRR-S</text>
<text x="1660.3" y="93" font-size="66" font-weight="bold" fill="#000" style="font-family:'Liberation Serif',serif">B</text>
<rect x="7.7" y="889.3" width="875" height="875.4" fill="#fff" stroke="#000" stroke-width="3.1" rx="1.5"/>
<rect x="111.75" y="902.9" width="151.25" height="33.7" fill="#d9d9d9"/>
<text x="187.38" y="926.85" font-size="17.4" fill="#222" class="st" text-anchor="middle">Chao1</text>
<text x="101.55" y="1085.99" font-size="24.0" fill="#4d4d4d" class="ax" text-anchor="end">5000</text>
<line x1="106.25" x2="111.75" y1="1077.4" y2="1077.4" stroke="#333" stroke-width="2.2"/>
<text x="101.55" y="1241.49" font-size="24.0" fill="#4d4d4d" class="ax" text-anchor="end">4000</text>
<line x1="106.25" x2="111.75" y1="1232.9" y2="1232.9" stroke="#333" stroke-width="2.2"/>
<text x="101.55" y="1397.49" font-size="24.0" fill="#4d4d4d" class="ax" text-anchor="end">3000</text>
<line x1="106.25" x2="111.75" y1="1388.9" y2="1388.9" stroke="#333" stroke-width="2.2"/>
<text x="101.55" y="1553.24" font-size="24.0" fill="#4d4d4d" class="ax" text-anchor="end">2000</text>
<line x1="106.25" x2="111.75" y1="1544.65" y2="1544.65" stroke="#333" stroke-width="2.2"/>
<path d="M140.25 982.4 V969.8 Q140.25 968 142.05 968 H233.05 Q234.85 968 234.85 969.8 V982.4" fill="none" stroke="#484848" stroke-width="2.2"/>
<path d="M187.5 1039.9 V1026.9 Q187.5 1025.1 189.3 1025.1 H233.05 Q234.85 1025.1 234.85 1026.9 V1039.9" fill="none" stroke="#484848" stroke-width="2.2"/>
<path d="M140.25 1097.4 V1084.6 Q140.25 1082.8 142.05 1082.8 H233.05 Q234.85 1082.8 234.85 1084.6 V1097.4" fill="none" stroke="#484848" stroke-width="2.2"/>
<line x1="140.25" x2="140.25" y1="1615.25" y2="1621.25" stroke="#333" stroke-width="2.2"/>
<text transform="translate(149.13 1624.8) rotate(-90)" font-size="24.8" fill="#4d4d4d" class="ax" text-anchor="end">WRR-AS</text>
<line x1="187.5" x2="187.5" y1="1615.25" y2="1621.25" stroke="#333" stroke-width="2.2"/>
<text transform="translate(196.38 1624.8) rotate(-90)" font-size="24.8" fill="#4d4d4d" class="ax" text-anchor="end">WRR-N</text>
<line x1="234.85" x2="234.85" y1="1615.25" y2="1621.25" stroke="#333" stroke-width="2.2"/>
<text transform="translate(243.73 1624.8) rotate(-90)" font-size="24.8" fill="#4d4d4d" class="ax" text-anchor="end">WRR-S</text>
<line x1="140.25" x2="140.25" y1="1169.75" y2="1210.25" stroke="#F8766D" stroke-width="2.3"/>
<line x1="137.85" x2="142.65" y1="1169.75" y2="1169.75" stroke="#F8766D" stroke-width="1.6"/>
<line x1="137.85" x2="142.65" y1="1210.25" y2="1210.25" stroke="#F8766D" stroke-width="1.6"/>
<line x1="140.25" x2="140.25" y1="1401.3" y2="1418.2" stroke="#F8766D" stroke-width="2.3"/>
<line x1="137.85" x2="142.65" y1="1401.3" y2="1401.3" stroke="#F8766D" stroke-width="1.6"/>
<line x1="140.25" x2="140.25" y1="1499.4" y2="1584" stroke="#F8766D" stroke-width="2.3"/>
<line x1="137.85" x2="142.65" y1="1584" y2="1584" stroke="#F8766D" stroke-width="1.6"/>
<line x1="137.85" x2="142.65" y1="1189.75" y2="1189.75" stroke="#F8766D" stroke-width="1.6"/>
<line x1="137.85" x2="142.65" y1="1511.5" y2="1511.5" stroke="#F8766D" stroke-width="1.6"/>
<line x1="137.85" x2="142.65" y1="1566.5" y2="1566.5" stroke="#F8766D" stroke-width="1.6"/>
<circle cx="140.25" cy="1180.25" r="4.7" fill="#F8766D"/>
<circle cx="140.25" cy="1198.5" r="4.7" fill="#F8766D"/>
<circle cx="140.25" cy="1410.25" r="4.7" fill="#F8766D"/>
<circle cx="140.25" cy="1504" r="4.7" fill="#F8766D"/>
<circle cx="140.25" cy="1575.25" r="4.7" fill="#F8766D"/>
<rect x="122.65" y="1418.2" width="35.2" height="81.2" fill="#fff" stroke="#F8766D" stroke-width="2.6" stroke-linejoin="round"/>
<line x1="122.65" x2="157.85" y1="1444" y2="1444" stroke="#F8766D" stroke-width="4.6"/>
<line x1="187.5" x2="187.5" y1="1106.5" y2="1198" stroke="#00BA38" stroke-width="3.2"/>
<line x1="185.1" x2="189.9" y1="1106.5" y2="1106.5" stroke="#00BA38" stroke-width="1.6"/>
<line x1="187.5" x2="187.5" y1="1466" y2="1581.5" stroke="#00BA38" stroke-width="3.2"/>
<line x1="185.1" x2="189.9" y1="1581.5" y2="1581.5" stroke="#00BA38" stroke-width="1.6"/>
<line x1="185.1" x2="189.9" y1="1122.25" y2="1122.25" stroke="#00BA38" stroke-width="1.6"/>
<line x1="185.1" x2="189.9" y1="1183.5" y2="1183.5" stroke="#00BA38" stroke-width="1.6"/>
<line x1="185.1" x2="189.9" y1="1476.5" y2="1476.5" stroke="#00BA38" stroke-width="1.6"/>
<line x1="185.1" x2="189.9" y1="1534" y2="1534" stroke="#00BA38" stroke-width="1.6"/>
<line x1="185.1" x2="189.9" y1="1552" y2="1552" stroke="#00BA38" stroke-width="1.6"/>
<line x1="185.1" x2="189.9" y1="1565" y2="1565" stroke="#00BA38" stroke-width="1.6"/>
<circle cx="187.5" cy="1114.75" r="4.7" fill="#00BA38"/>
<circle cx="187.5" cy="1191.5" r="4.7" fill="#00BA38"/>
<circle cx="187.5" cy="1543.5" r="4.7" fill="#00BA38"/>
<circle cx="187.5" cy="1575.25" r="4.7" fill="#00BA38"/>
<rect x="169.9" y="1198" width="35.2" height="268" fill="#fff" stroke="#00BA38" stroke-width="2.6" stroke-linejoin="round"/>
<line x1="169.9" x2="205.1" y1="1346" y2="1346" stroke="#00BA38" stroke-width="4.6"/>
<line x1="234.85" x2="234.85" y1="1177.25" y2="1311.5" stroke="#619CFF" stroke-width="2.7"/>
<line x1="232.45" x2="237.25" y1="1177.25" y2="1177.25" stroke="#619CFF" stroke-width="1.6"/>
<line x1="234.85" x2="234.85" y1="1481.5" y2="1579" stroke="#619CFF" stroke-width="2.7"/>
<line x1="232.45" x2="237.25" y1="1579" y2="1579" stroke="#619CFF" stroke-width="1.6"/>
<line x1="232.45" x2="237.25" y1="1199.75" y2="1199.75" stroke="#619CFF" stroke-width="1.6"/>
<line x1="232.45" x2="237.25" y1="1258.5" y2="1258.5" stroke="#619CFF" stroke-width="1.6"/>
<line x1="232.45" x2="237.25" y1="1282.25" y2="1282.25" stroke="#619CFF" stroke-width="1.6"/>
<line x1="232.45" x2="237.25" y1="1299.75" y2="1299.75" stroke="#619CFF" stroke-width="1.6"/>
<line x1="232.45" x2="237.25" y1="1499" y2="1499" stroke="#619CFF" stroke-width="1.6"/>
<line x1="232.45" x2="237.25" y1="1530" y2="1530" stroke="#619CFF" stroke-width="1.6"/>
<line x1="232.45" x2="237.25" y1="1547.75" y2="1547.75" stroke="#619CFF" stroke-width="1.6"/>
<circle cx="234.85" cy="1189" r="4.7" fill="#619CFF"/>
<circle cx="234.85" cy="1269.75" r="4.7" fill="#619CFF"/>
<circle cx="234.85" cy="1291.5" r="4.7" fill="#619CFF"/>
<circle cx="234.85" cy="1490.25" r="4.7" fill="#619CFF"/>
<circle cx="234.85" cy="1539" r="4.7" fill="#619CFF"/>
<circle cx="234.85" cy="1570.25" r="4.7" fill="#619CFF"/>
<rect x="217.25" y="1311.5" width="35.2" height="170" fill="#fff" stroke="#619CFF" stroke-width="2.6" stroke-linejoin="round"/>
<line x1="217.25" x2="252.45" y1="1390.25" y2="1390.25" stroke="#619CFF" stroke-width="4.6"/>
<rect x="318.75" y="902.9" width="151.25" height="33.7" fill="#d9d9d9"/>
<text x="394.38" y="926.85" font-size="17.4" fill="#222" class="st" text-anchor="middle">Shannon</text>
<text x="307.05" y="1013.24" font-size="24.0" fill="#4d4d4d" class="ax" text-anchor="end">8.0</text>
<line x1="312.5" x2="318.75" y1="1004.65" y2="1004.65" stroke="#333" stroke-width="2.2"/>
<text x="307.05" y="1131.49" font-size="24.0" fill="#4d4d4d" class="ax" text-anchor="end">7.5</text>
<line x1="312.5" x2="318.75" y1="1122.9" y2="1122.9" stroke="#333" stroke-width="2.2"/>
<text x="307.05" y="1250.24" font-size="24.0" fill="#4d4d4d" class="ax" text-anchor="end">7.0</text>
<line x1="312.5" x2="318.75" y1="1241.65" y2="1241.65" stroke="#333" stroke-width="2.2"/>
<text x="307.05" y="1368.74" font-size="24.0" fill="#4d4d4d" class="ax" text-anchor="end">6.5</text>
<line x1="312.5" x2="318.75" y1="1360.15" y2="1360.15" stroke="#333" stroke-width="2.2"/>
<text x="307.05" y="1486.99" font-size="24.0" fill="#4d4d4d" class="ax" text-anchor="end">6.0</text>
<line x1="312.5" x2="318.75" y1="1478.4" y2="1478.4" stroke="#333" stroke-width="2.2"/>
<text x="307.05" y="1605.74" font-size="24.0" fill="#4d4d4d" class="ax" text-anchor="end">5.5</text>
<line x1="312.5" x2="318.75" y1="1597.15" y2="1597.15" stroke="#333" stroke-width="2.2"/>
<path d="M347.5 982.4 V969.8 Q347.5 968 349.3 968 H440.7 Q442.5 968 442.5 969.8 V982.4" fill="none" stroke="#484848" stroke-width="2.2"/>
<path d="M395 1039.9 V1026.9 Q395 1025.1 396.8 1025.1 H440.7 Q442.5 1025.1 442.5 1026.9 V1039.9" fill="none" stroke="#484848" stroke-width="2.2"/>
<path d="M347.5 1097.4 V1084.6 Q347.5 1082.8 349.3 1082.8 H440.7 Q442.5 1082.8 442.5 1084.6 V1097.4" fill="none" stroke="#484848" stroke-width="2.2"/>
<line x1="347.5" x2="347.5" y1="1615.25" y2="1621.25" stroke="#333" stroke-width="2.2"/>
<text transform="translate(356.38 1624.8) rotate(-90)" font-size="24.8" fill="#4d4d4d" class="ax" text-anchor="end">WRR-AS</text>
<line x1="395" x2="395" y1="1615.25" y2="1621.25" stroke="#333" stroke-width="2.2"/>
<text transform="translate(403.88 1624.8) rotate(-90)" font-size="24.8" fill="#4d4d4d" class="ax" text-anchor="end">WRR-N</text>
<line x1="442.5" x2="442.5" y1="1615.25" y2="1621.25" stroke="#333" stroke-width="2.2"/>
<text transform="translate(451.38 1624.8) rotate(-90)" font-size="24.8" fill="#4d4d4d" class="ax" text-anchor="end">WRR-S</text>
<line x1="347.5" x2="347.5" y1="1144.75" y2="1223.5" stroke="#F8766D" stroke-width="2.3"/>
<line x1="347.5" x2="347.5" y1="1430.25" y2="1584.5" stroke="#F8766D" stroke-width="2.3"/>
<circle cx="347.5" cy="1144.75" r="4.7" fill="#F8766D"/>
<circle cx="347.5" cy="1213.5" r="4.7" fill="#F8766D"/>
<circle cx="347.5" cy="1216.5" r="4.7" fill="#F8766D"/>
<circle cx="347.5" cy="1466.5" r="4.7" fill="#F8766D"/>
<circle cx="347.5" cy="1494.75" r="4.7" fill="#F8766D"/>
<circle cx="347.5" cy="1584.5" r="4.7" fill="#F8766D"/>
<rect x="329.9" y="1223.5" width="35.2" height="206.75" fill="#fff" stroke="#F8766D" stroke-width="2.6" stroke-linejoin="round"/>
<line x1="329.9" x2="365.1" y1="1303" y2="1303" stroke="#F8766D" stroke-width="4.6"/>
<line x1="395" x2="395" y1="1106" y2="1127" stroke="#00BA38" stroke-width="2.8"/>
<line x1="395" x2="395" y1="1308.5" y2="1493.5" stroke="#00BA38" stroke-width="2.8"/>
<circle cx="395" cy="1106" r="4.7" fill="#00BA38"/>
<circle cx="395" cy="1109.25" r="4.7" fill="#00BA38"/>
<circle cx="395" cy="1123" r="4.7" fill="#00BA38"/>
<circle cx="395" cy="1323" r="4.7" fill="#00BA38"/>
<circle cx="395" cy="1411.5" r="4.7" fill="#00BA38"/>
<circle cx="395" cy="1493.5" r="4.7" fill="#00BA38"/>
<rect x="377.4" y="1127.25" width="35.2" height="181.25" fill="#fff" stroke="#00BA38" stroke-width="2.6" stroke-linejoin="round"/>
<line x1="377.4" x2="412.6" y1="1223.5" y2="1223.5" stroke="#00BA38" stroke-width="4.6"/>
<line x1="442.5" x2="442.5" y1="1157.25" y2="1189" stroke="#619CFF" stroke-width="2.3"/>
<line x1="442.5" x2="442.5" y1="1283" y2="1287.25" stroke="#619CFF" stroke-width="2.3"/>
<circle cx="442.5" cy="1157.25" r="4.7" fill="#619CFF"/>
<circle cx="442.5" cy="1162.25" r="4.7" fill="#619CFF"/>
<circle cx="442.5" cy="1174.75" r="4.7" fill="#619CFF"/>
<circle cx="442.5" cy="1287.25" r="4.7" fill="#619CFF"/>
<circle cx="442.5" cy="1504" r="4.7" fill="#619CFF"/>
<circle cx="442.5" cy="1577.75" r="4.7" fill="#619CFF"/>
<rect x="424.9" y="1189" width="35.2" height="94" fill="#fff" stroke="#619CFF" stroke-width="2.6" stroke-linejoin="round"/>
<line x1="424.9" x2="460.1" y1="1243" y2="1243" stroke="#619CFF" stroke-width="4.6"/>
<rect x="553.5" y="902.9" width="151" height="33.7" fill="#d9d9d9"/>
<text x="629" y="926.85" font-size="17.4" fill="#222" class="st" text-anchor="middle">Simpson</text>
<text x="543.05" y="971.99" font-size="24.0" fill="#4d4d4d" class="ax" text-anchor="end">1.025</text>
<line x1="547.5" x2="553.5" y1="963.4" y2="963.4" stroke="#333" stroke-width="2.2"/>
<text x="543.05" y="1108.99" font-size="24.0" fill="#4d4d4d" class="ax" text-anchor="end">1.000</text>
<line x1="547.5" x2="553.5" y1="1100.4" y2="1100.4" stroke="#333" stroke-width="2.2"/>
<text x="543.05" y="1246.49" font-size="24.0" fill="#4d4d4d" class="ax" text-anchor="end">0.975</text>
<line x1="547.5" x2="553.5" y1="1237.9" y2="1237.9" stroke="#333" stroke-width="2.2"/>
<text x="543.05" y="1383.74" font-size="24.0" fill="#4d4d4d" class="ax" text-anchor="end">0.950</text>
<line x1="547.5" x2="553.5" y1="1375.15" y2="1375.15" stroke="#333" stroke-width="2.2"/>
<text x="543.05" y="1521.24" font-size="24.0" fill="#4d4d4d" class="ax" text-anchor="end">0.925</text>
<line x1="547.5" x2="553.5" y1="1512.65" y2="1512.65" stroke="#333" stroke-width="2.2"/>
<path d="M581.5 982.4 V969.8 Q581.5 968 583.3 968 H674.7 Q676.5 968 676.5 969.8 V982.4" fill="none" stroke="#484848" stroke-width="2.2"/>
<path d="M628.5 1039.9 V1026.9 Q628.5 1025.1 630.3 1025.1 H674.7 Q676.5 1025.1 676.5 1026.9 V1039.9" fill="none" stroke="#484848" stroke-width="2.2"/>
<path d="M581.5 1097.4 V1084.6 Q581.5 1082.8 583.3 1082.8 H674.7 Q676.5 1082.8 676.5 1084.6 V1097.4" fill="none" stroke="#484848" stroke-width="2.2"/>
<line x1="581.5" x2="581.5" y1="1615.25" y2="1621.25" stroke="#333" stroke-width="2.2"/>
<text transform="translate(590.38 1624.8) rotate(-90)" font-size="24.8" fill="#4d4d4d" class="ax" text-anchor="end">WRR-AS</text>
<line x1="628.5" x2="628.5" y1="1615.25" y2="1621.25" stroke="#333" stroke-width="2.2"/>
<text transform="translate(637.38 1624.8) rotate(-90)" font-size="24.8" fill="#4d4d4d" class="ax" text-anchor="end">WRR-N</text>
<line x1="676.5" x2="676.5" y1="1615.25" y2="1621.25" stroke="#333" stroke-width="2.2"/>
<text transform="translate(685.38 1624.8) rotate(-90)" font-size="24.8" fill="#4d4d4d" class="ax" text-anchor="end">WRR-S</text>
<line x1="581.5" x2="581.5" y1="1109" y2="1111.75" stroke="#F8766D" stroke-width="2.3"/>
<line x1="581.5" x2="581.5" y1="1157.25" y2="1220.5" stroke="#F8766D" stroke-width="2.3"/>
<circle cx="581.5" cy="1109" r="4.7" fill="#F8766D"/>
<circle cx="581.5" cy="1164.75" r="4.7" fill="#F8766D"/>
<circle cx="581.5" cy="1171" r="4.7" fill="#F8766D"/>
<circle cx="581.5" cy="1220.5" r="4.7" fill="#F8766D"/>
<rect x="563.9" y="1111.75" width="35.2" height="45.5" fill="#fff" stroke="#F8766D" stroke-width="2.6" stroke-linejoin="round"/>
<line x1="563.9" x2="599.1" y1="1121.5" y2="1121.5" stroke="#F8766D" stroke-width="4.6"/>
<line x1="628.5" x2="628.5" y1="1125.5" y2="1135.5" stroke="#00BA38" stroke-width="2.8"/>
<circle cx="628.5" cy="1106" r="4.7" fill="#00BA38"/>
<circle cx="628.5" cy="1128.5" r="4.7" fill="#00BA38"/>
<circle cx="628.5" cy="1135.5" r="4.7" fill="#00BA38"/>
<circle cx="628.5" cy="1164.25" r="4.7" fill="#00BA38"/>
<rect x="610.9" y="1106.75" width="35.2" height="18.75" fill="#fff" stroke="#00BA38" stroke-width="2.6" stroke-linejoin="round"/>
<line x1="610.9" x2="646.1" y1="1112.25" y2="1112.25" stroke="#00BA38" stroke-width="4.6"/>
<circle cx="676.5" cy="1108.5" r="4.7" fill="#619CFF"/>
<circle cx="676.5" cy="1114.75" r="4.7" fill="#619CFF"/>
<circle cx="676.5" cy="1161" r="4.7" fill="#619CFF"/>
<circle cx="676.5" cy="1584.5" r="4.7" fill="#619CFF"/>
<rect x="658.9" y="1112" width="35.2" height="3" fill="#fff" stroke="#619CFF" stroke-width="2.6" stroke-linejoin="round"/>
<line x1="658.9" x2="694.1" y1="1113.5" y2="1113.5" stroke="#619CFF" stroke-width="4.6"/>
<text transform="translate(37 1276) rotate(-90)" font-size="22.4" fill="#000" class="bk" text-anchor="middle">Alpha Diversity Measure</text>
<text x="408" y="1746.4" font-size="22.3" fill="#000" class="bk" text-anchor="middle">Status</text>
<text x="738.9" y="1224.9" font-size="22.2" fill="#000" class="bk">Status</text>
<rect x="738.9" y="1238.2" width="35.1" height="106.4" fill="#f2f2f2"/>
<line x1="756.05" x2="756.05" y1="1242.3" y2="1270.7" stroke="#F8766D" stroke-width="2.4"/>
<rect x="742.75" y="1247.65" width="26.6" height="17.7" fill="#fff" stroke="#F8766D" stroke-width="2.3" stroke-linejoin="round"/>
<line x1="742.75" x2="769.35" y1="1256.5" y2="1256.5" stroke="#F8766D" stroke-width="2.7"/>
<text x="785" y="1262.1" font-size="18" fill="#000" class="bk">WRR-AS</text>
<line x1="756.05" x2="756.05" y1="1277.77" y2="1306.17" stroke="#00BA38" stroke-width="2.4"/>
<rect x="742.75" y="1283.12" width="26.6" height="17.7" fill="#fff" stroke="#00BA38" stroke-width="2.3" stroke-linejoin="round"/>
<line x1="742.75" x2="769.35" y1="1291.97" y2="1291.97" stroke="#00BA38" stroke-width="2.7"/>
<text x="785" y="1297.57" font-size="18" fill="#000" class="bk">WRR-N</text>
<line x1="756.05" x2="756.05" y1="1313.24" y2="1341.64" stroke="#619CFF" stroke-width="2.4"/>
<rect x="742.75" y="1318.59" width="26.6" height="17.7" fill="#fff" stroke="#619CFF" stroke-width="2.3" stroke-linejoin="round"/>
<line x1="742.75" x2="769.35" y1="1327.44" y2="1327.44" stroke="#619CFF" stroke-width="2.7"/>
<text x="785" y="1333.04" font-size="18" fill="#000" class="bk">WRR-S</text>
<text x="768.3" y="962.3" font-size="66" font-weight="bold" fill="#000" style="font-family:'Liberation Serif',serif">C</text>
<rect x="888.4" y="889.3" width="875.2" height="875.4" fill="#fff" stroke="#000" stroke-width="3.1" rx="1.5"/>
<rect x="993" y="902.9" width="151" height="33.7" fill="#d9d9d9"/>
<text x="1068.5" y="926.85" font-size="17.4" fill="#222" class="st" text-anchor="middle">Chao1</text>
<text x="982.3" y="1144.99" font-size="24.0" fill="#4d4d4d" class="ax" text-anchor="end">4000</text>
<line x1="987.25" x2="993" y1="1136.4" y2="1136.4" stroke="#333" stroke-width="2.2"/>
<text x="982.3" y="1354.99" font-size="24.0" fill="#4d4d4d" class="ax" text-anchor="end">3000</text>
<line x1="987.25" x2="993" y1="1346.4" y2="1346.4" stroke="#333" stroke-width="2.2"/>
<text x="982.3" y="1564.49" font-size="24.0" fill="#4d4d4d" class="ax" text-anchor="end">2000</text>
<line x1="987.25" x2="993" y1="1555.9" y2="1555.9" stroke="#333" stroke-width="2.2"/>
<path d="M1021.5 982.4 V969.8 Q1021.5 968 1023.3 968 H1114.2 Q1116 968 1116 969.8 V982.4" fill="none" stroke="#484848" stroke-width="2.2"/>
<path d="M1068.5 1039.9 V1026.9 Q1068.5 1025.1 1070.3 1025.1 H1114.2 Q1116 1025.1 1116 1026.9 V1039.9" fill="none" stroke="#484848" stroke-width="2.2"/>
<path d="M1021.5 1097.4 V1084.6 Q1021.5 1082.8 1023.3 1082.8 H1114.2 Q1116 1082.8 1116 1084.6 V1097.4" fill="none" stroke="#484848" stroke-width="2.2"/>
<line x1="1021.5" x2="1021.5" y1="1615.25" y2="1621.25" stroke="#333" stroke-width="2.2"/>
<text transform="translate(1030.38 1624.8) rotate(-90)" font-size="24.8" fill="#4d4d4d" class="ax" text-anchor="end">WRR-AS</text>
<line x1="1068.5" x2="1068.5" y1="1615.25" y2="1621.25" stroke="#333" stroke-width="2.2"/>
<text transform="translate(1077.38 1624.8) rotate(-90)" font-size="24.8" fill="#4d4d4d" class="ax" text-anchor="end">WRR-N</text>
<line x1="1116" x2="1116" y1="1615.25" y2="1621.25" stroke="#333" stroke-width="2.2"/>
<text transform="translate(1124.88 1624.8) rotate(-90)" font-size="24.8" fill="#4d4d4d" class="ax" text-anchor="end">WRR-S</text>
<line x1="1021.5" x2="1021.5" y1="1106" y2="1129.75" stroke="#F8766D" stroke-width="2.3"/>
<line x1="1019.1" x2="1023.9" y1="1106" y2="1106" stroke="#F8766D" stroke-width="1.6"/>
<line x1="1019.1" x2="1023.9" y1="1129.75" y2="1129.75" stroke="#F8766D" stroke-width="1.6"/>
<line x1="1021.5" x2="1021.5" y1="1191.5" y2="1352" stroke="#F8766D" stroke-width="2.3"/>
<line x1="1019.1" x2="1023.9" y1="1191.5" y2="1191.5" stroke="#F8766D" stroke-width="1.6"/>
<line x1="1021.5" x2="1021.5" y1="1467.25" y2="1584" stroke="#F8766D" stroke-width="2.3"/>
<line x1="1019.1" x2="1023.9" y1="1584" y2="1584" stroke="#F8766D" stroke-width="1.6"/>
<line x1="1019.1" x2="1023.9" y1="1217.25" y2="1217.25" stroke="#F8766D" stroke-width="1.6"/>
<line x1="1019.1" x2="1023.9" y1="1318.5" y2="1318.5" stroke="#F8766D" stroke-width="1.6"/>
<line x1="1019.1" x2="1023.9" y1="1343" y2="1343" stroke="#F8766D" stroke-width="1.6"/>
<line x1="1019.1" x2="1023.9" y1="1486.5" y2="1486.5" stroke="#F8766D" stroke-width="1.6"/>
<line x1="1019.1" x2="1023.9" y1="1499" y2="1499" stroke="#F8766D" stroke-width="1.6"/>
<line x1="1019.1" x2="1023.9" y1="1524" y2="1524" stroke="#F8766D" stroke-width="1.6"/>
<line x1="1019.1" x2="1023.9" y1="1555.25" y2="1555.25" stroke="#F8766D" stroke-width="1.6"/>
<circle cx="1021.5" cy="1118.5" r="4.7" fill="#F8766D"/>
<circle cx="1021.5" cy="1205.25" r="4.7" fill="#F8766D"/>
<circle cx="1021.5" cy="1332.75" r="4.7" fill="#F8766D"/>
<circle cx="1021.5" cy="1474.75" r="4.7" fill="#F8766D"/>
<circle cx="1021.5" cy="1512.25" r="4.7" fill="#F8766D"/>
<circle cx="1021.5" cy="1570.25" r="4.7" fill="#F8766D"/>
<rect x="1003.9" y="1352" width="35.2" height="115.25" fill="#fff" stroke="#F8766D" stroke-width="2.6" stroke-linejoin="round"/>
<line x1="1003.9" x2="1039.1" y1="1429.75" y2="1429.75" stroke="#F8766D" stroke-width="4.6"/>
<line x1="1068.5" x2="1068.5" y1="1266" y2="1384.75" stroke="#00BA38" stroke-width="3.2"/>
<line x1="1066.1" x2="1070.9" y1="1266" y2="1266" stroke="#00BA38" stroke-width="1.6"/>
<line x1="1068.5" x2="1068.5" y1="1521.5" y2="1567.75" stroke="#00BA38" stroke-width="3.2"/>
<line x1="1066.1" x2="1070.9" y1="1567.75" y2="1567.75" stroke="#00BA38" stroke-width="1.6"/>
<line x1="1066.1" x2="1070.9" y1="1291" y2="1291" stroke="#00BA38" stroke-width="1.6"/>
<line x1="1066.1" x2="1070.9" y1="1307.25" y2="1307.25" stroke="#00BA38" stroke-width="1.6"/>
<line x1="1066.1" x2="1070.9" y1="1331.5" y2="1331.5" stroke="#00BA38" stroke-width="1.6"/>
<line x1="1066.1" x2="1070.9" y1="1374" y2="1374" stroke="#00BA38" stroke-width="1.6"/>
<line x1="1066.1" x2="1070.9" y1="1541.5" y2="1541.5" stroke="#00BA38" stroke-width="1.6"/>
<circle cx="1068.5" cy="1279" r="4.7" fill="#00BA38"/>
<circle cx="1068.5" cy="1319.75" r="4.7" fill="#00BA38"/>
<circle cx="1068.5" cy="1382" r="4.7" fill="#00BA38"/>
<circle cx="1068.5" cy="1529" r="4.7" fill="#00BA38"/>
<circle cx="1068.5" cy="1550.25" r="4.7" fill="#00BA38"/>
<circle cx="1068.5" cy="1556.5" r="4.7" fill="#00BA38"/>
<rect x="1050.9" y="1384.75" width="35.2" height="136.75" fill="#fff" stroke="#00BA38" stroke-width="2.6" stroke-linejoin="round"/>
<line x1="1050.9" x2="1086.1" y1="1410.25" y2="1410.25" stroke="#00BA38" stroke-width="4.6"/>
<line x1="1116" x2="1116" y1="1181.5" y2="1285.5" stroke="#619CFF" stroke-width="2.7"/>
<line x1="1113.6" x2="1118.4" y1="1181.5" y2="1181.5" stroke="#619CFF" stroke-width="1.6"/>
<line x1="1116" x2="1116" y1="1409.5" y2="1446.5" stroke="#619CFF" stroke-width="2.7"/>
<line x1="1113.6" x2="1118.4" y1="1446.5" y2="1446.5" stroke="#619CFF" stroke-width="1.6"/>
<line x1="1113.6" x2="1118.4" y1="1203.5" y2="1203.5" stroke="#619CFF" stroke-width="1.6"/>
<line x1="1113.6" x2="1118.4" y1="1224.75" y2="1224.75" stroke="#619CFF" stroke-width="1.6"/>
<line x1="1113.6" x2="1118.4" y1="1258.5" y2="1258.5" stroke="#619CFF" stroke-width="1.6"/>
<circle cx="1116" cy="1192.25" r="4.7" fill="#619CFF"/>
<circle cx="1116" cy="1211.75" r="4.7" fill="#619CFF"/>
<circle cx="1116" cy="1272.25" r="4.7" fill="#619CFF"/>
<circle cx="1116" cy="1414" r="4.7" fill="#619CFF"/>
<circle cx="1116" cy="1432.25" r="4.7" fill="#619CFF"/>
<rect x="1098.4" y="1285.5" width="35.2" height="124" fill="#fff" stroke="#619CFF" stroke-width="2.6" stroke-linejoin="round"/>
<line x1="1098.4" x2="1133.6" y1="1389.75" y2="1389.75" stroke="#619CFF" stroke-width="4.6"/>
<rect x="1199.75" y="902.9" width="151.25" height="33.7" fill="#d9d9d9"/>
<text x="1275.38" y="926.85" font-size="17.4" fill="#222" class="st" text-anchor="middle">Shannon</text>
<text x="1188.55" y="957.24" font-size="24.0" fill="#4d4d4d" class="ax" text-anchor="end">8.0</text>
<line x1="1194" x2="1199.75" y1="948.65" y2="948.65" stroke="#333" stroke-width="2.2"/>
<text x="1188.55" y="1110.24" font-size="24.0" fill="#4d4d4d" class="ax" text-anchor="end">7.5</text>
<line x1="1194" x2="1199.75" y1="1101.65" y2="1101.65" stroke="#333" stroke-width="2.2"/>
<text x="1188.55" y="1263.49" font-size="24.0" fill="#4d4d4d" class="ax" text-anchor="end">7.0</text>
<line x1="1194" x2="1199.75" y1="1254.9" y2="1254.9" stroke="#333" stroke-width="2.2"/>
<text x="1188.55" y="1416.99" font-size="24.0" fill="#4d4d4d" class="ax" text-anchor="end">6.5</text>
<line x1="1194" x2="1199.75" y1="1408.4" y2="1408.4" stroke="#333" stroke-width="2.2"/>
<text x="1188.55" y="1569.99" font-size="24.0" fill="#4d4d4d" class="ax" text-anchor="end">6.0</text>
<line x1="1194" x2="1199.75" y1="1561.4" y2="1561.4" stroke="#333" stroke-width="2.2"/>
<path d="M1228.5 982.4 V969.8 Q1228.5 968 1230.3 968 H1321.2 Q1323 968 1323 969.8 V982.4" fill="none" stroke="#484848" stroke-width="2.2"/>
<path d="M1275.5 1039.9 V1026.9 Q1275.5 1025.1 1277.3 1025.1 H1321.2 Q1323 1025.1 1323 1026.9 V1039.9" fill="none" stroke="#484848" stroke-width="2.2"/>
<path d="M1228.5 1097.4 V1084.6 Q1228.5 1082.8 1230.3 1082.8 H1321.2 Q1323 1082.8 1323 1084.6 V1097.4" fill="none" stroke="#484848" stroke-width="2.2"/>
<line x1="1228.5" x2="1228.5" y1="1615.25" y2="1621.25" stroke="#333" stroke-width="2.2"/>
<text transform="translate(1237.38 1624.8) rotate(-90)" font-size="24.8" fill="#4d4d4d" class="ax" text-anchor="end">WRR-AS</text>
<line x1="1275.5" x2="1275.5" y1="1615.25" y2="1621.25" stroke="#333" stroke-width="2.2"/>
<text transform="translate(1284.38 1624.8) rotate(-90)" font-size="24.8" fill="#4d4d4d" class="ax" text-anchor="end">WRR-N</text>
<line x1="1323" x2="1323" y1="1615.25" y2="1621.25" stroke="#333" stroke-width="2.2"/>
<text transform="translate(1331.88 1624.8) rotate(-90)" font-size="24.8" fill="#4d4d4d" class="ax" text-anchor="end">WRR-S</text>
<line x1="1228.5" x2="1228.5" y1="1221.5" y2="1271" stroke="#F8766D" stroke-width="2.3"/>
<line x1="1228.5" x2="1228.5" y1="1337.75" y2="1418.25" stroke="#F8766D" stroke-width="2.3"/>
<circle cx="1228.5" cy="1221.5" r="4.7" fill="#F8766D"/>
<circle cx="1228.5" cy="1264.75" r="4.7" fill="#F8766D"/>
<circle cx="1228.5" cy="1342.75" r="4.7" fill="#F8766D"/>
<circle cx="1228.5" cy="1418.25" r="4.7" fill="#F8766D"/>
<circle cx="1228.5" cy="1106.75" r="4.7" fill="#F8766D"/>
<circle cx="1228.5" cy="1584.5" r="4.7" fill="#F8766D"/>
<rect x="1210.9" y="1271" width="35.2" height="66.75" fill="#fff" stroke="#F8766D" stroke-width="2.6" stroke-linejoin="round"/>
<line x1="1210.9" x2="1246.1" y1="1299.25" y2="1299.25" stroke="#F8766D" stroke-width="4.6"/>
<line x1="1275.5" x2="1275.5" y1="1179.75" y2="1211" stroke="#00BA38" stroke-width="2.8"/>
<line x1="1275.5" x2="1275.5" y1="1309.75" y2="1361.5" stroke="#00BA38" stroke-width="2.8"/>
<circle cx="1275.5" cy="1179.75" r="4.7" fill="#00BA38"/>
<circle cx="1275.5" cy="1190.5" r="4.7" fill="#00BA38"/>
<circle cx="1275.5" cy="1199" r="4.7" fill="#00BA38"/>
<circle cx="1275.5" cy="1312" r="4.7" fill="#00BA38"/>
<circle cx="1275.5" cy="1334.5" r="4.7" fill="#00BA38"/>
<circle cx="1275.5" cy="1361.5" r="4.7" fill="#00BA38"/>
<rect x="1257.9" y="1211" width="35.2" height="98.75" fill="#fff" stroke="#00BA38" stroke-width="2.6" stroke-linejoin="round"/>
<line x1="1257.9" x2="1293.1" y1="1286" y2="1286" stroke="#00BA38" stroke-width="4.6"/>
<line x1="1323" x2="1323" y1="1149" y2="1221.5" stroke="#619CFF" stroke-width="2.3"/>
<line x1="1323" x2="1323" y1="1295.25" y2="1347" stroke="#619CFF" stroke-width="2.3"/>
<circle cx="1323" cy="1149" r="4.7" fill="#619CFF"/>
<circle cx="1323" cy="1191.5" r="4.7" fill="#619CFF"/>
<circle cx="1323" cy="1215.5" r="4.7" fill="#619CFF"/>
<circle cx="1323" cy="1302.25" r="4.7" fill="#619CFF"/>
<circle cx="1323" cy="1321" r="4.7" fill="#619CFF"/>
<circle cx="1323" cy="1347" r="4.7" fill="#619CFF"/>
<rect x="1305.4" y="1221.5" width="35.2" height="73.75" fill="#fff" stroke="#619CFF" stroke-width="2.6" stroke-linejoin="round"/>
<line x1="1305.4" x2="1340.6" y1="1251" y2="1251" stroke="#619CFF" stroke-width="4.6"/>
<rect x="1434" y="902.9" width="151.25" height="33.7" fill="#d9d9d9"/>
<text x="1509.62" y="926.85" font-size="17.4" fill="#222" class="st" text-anchor="middle">Simpson</text>
<text x="1423.55" y="1073.99" font-size="24.0" fill="#4d4d4d" class="ax" text-anchor="end">1.000</text>
<line x1="1428.5" x2="1434" y1="1065.4" y2="1065.4" stroke="#333" stroke-width="2.2"/>
<text x="1423.55" y="1255.24" font-size="24.0" fill="#4d4d4d" class="ax" text-anchor="end">0.995</text>
<line x1="1428.5" x2="1434" y1="1246.65" y2="1246.65" stroke="#333" stroke-width="2.2"/>
<text x="1423.55" y="1436.74" font-size="24.0" fill="#4d4d4d" class="ax" text-anchor="end">0.990</text>
<line x1="1428.5" x2="1434" y1="1428.15" y2="1428.15" stroke="#333" stroke-width="2.2"/>
<text x="1423.55" y="1617.49" font-size="24.0" fill="#4d4d4d" class="ax" text-anchor="end">0.985</text>
<line x1="1428.5" x2="1434" y1="1608.9" y2="1608.9" stroke="#333" stroke-width="2.2"/>
<path d="M1462.25 982.4 V969.8 Q1462.25 968 1464.05 968 H1555.2 Q1557 968 1557 969.8 V982.4" fill="none" stroke="#484848" stroke-width="2.2"/>
<path d="M1509.5 1039.9 V1026.9 Q1509.5 1025.1 1511.3 1025.1 H1555.2 Q1557 1025.1 1557 1026.9 V1039.9" fill="none" stroke="#484848" stroke-width="2.2"/>
<path d="M1462.25 1097.4 V1084.6 Q1462.25 1082.8 1464.05 1082.8 H1555.2 Q1557 1082.8 1557 1084.6 V1097.4" fill="none" stroke="#484848" stroke-width="2.2"/>
<line x1="1462.25" x2="1462.25" y1="1615.25" y2="1621.25" stroke="#333" stroke-width="2.2"/>
<text transform="translate(1471.13 1624.8) rotate(-90)" font-size="24.8" fill="#4d4d4d" class="ax" text-anchor="end">WRR-AS</text>
<line x1="1509.5" x2="1509.5" y1="1615.25" y2="1621.25" stroke="#333" stroke-width="2.2"/>
<text transform="translate(1518.38 1624.8) rotate(-90)" font-size="24.8" fill="#4d4d4d" class="ax" text-anchor="end">WRR-N</text>
<line x1="1557" x2="1557" y1="1615.25" y2="1621.25" stroke="#333" stroke-width="2.2"/>
<text transform="translate(1565.88 1624.8) rotate(-90)" font-size="24.8" fill="#4d4d4d" class="ax" text-anchor="end">WRR-S</text>
<line x1="1462.25" x2="1462.25" y1="1106.75" y2="1148.5" stroke="#F8766D" stroke-width="2.3"/>
<line x1="1462.25" x2="1462.25" y1="1201.5" y2="1206" stroke="#F8766D" stroke-width="2.3"/>
<circle cx="1462.25" cy="1106.75" r="4.7" fill="#F8766D"/>
<circle cx="1462.25" cy="1121" r="4.7" fill="#F8766D"/>
<circle cx="1462.25" cy="1147" r="4.7" fill="#F8766D"/>
<circle cx="1462.25" cy="1206" r="4.7" fill="#F8766D"/>
<circle cx="1462.25" cy="1306" r="4.7" fill="#F8766D"/>
<circle cx="1462.25" cy="1584.5" r="4.7" fill="#F8766D"/>
<rect x="1444.65" y="1148.5" width="35.2" height="53" fill="#fff" stroke="#F8766D" stroke-width="2.6" stroke-linejoin="round"/>
<line x1="1444.65" x2="1479.85" y1="1167.75" y2="1167.75" stroke="#F8766D" stroke-width="4.6"/>
<line x1="1509.5" x2="1509.5" y1="1111" y2="1121" stroke="#00BA38" stroke-width="2.8"/>
<line x1="1509.5" x2="1509.5" y1="1151.5" y2="1191.5" stroke="#00BA38" stroke-width="2.8"/>
<circle cx="1509.5" cy="1111" r="4.7" fill="#00BA38"/>
<circle cx="1509.5" cy="1114.75" r="4.7" fill="#00BA38"/>
<circle cx="1509.5" cy="1152.5" r="4.7" fill="#00BA38"/>
<circle cx="1509.5" cy="1187.25" r="4.7" fill="#00BA38"/>
<circle cx="1509.5" cy="1191.5" r="4.7" fill="#00BA38"/>
<rect x="1491.9" y="1121" width="35.2" height="30.5" fill="#fff" stroke="#00BA38" stroke-width="2.6" stroke-linejoin="round"/>
<line x1="1491.9" x2="1527.1" y1="1149.75" y2="1149.75" stroke="#00BA38" stroke-width="4.6"/>
<line x1="1557" x2="1557" y1="1121" y2="1134" stroke="#619CFF" stroke-width="2.3"/>
<line x1="1557" x2="1557" y1="1204" y2="1210.25" stroke="#619CFF" stroke-width="2.3"/>
<circle cx="1557" cy="1121" r="4.7" fill="#619CFF"/>
<circle cx="1557" cy="1124.75" r="4.7" fill="#619CFF"/>
<circle cx="1557" cy="1128.5" r="4.7" fill="#619CFF"/>
<circle cx="1557" cy="1206.5" r="4.7" fill="#619CFF"/>
<circle cx="1557" cy="1211" r="4.7" fill="#619CFF"/>
<circle cx="1557" cy="1314.75" r="4.7" fill="#619CFF"/>
<rect x="1539.4" y="1134.25" width="35.2" height="69.75" fill="#fff" stroke="#619CFF" stroke-width="2.6" stroke-linejoin="round"/>
<line x1="1539.4" x2="1574.6" y1="1156.75" y2="1156.75" stroke="#619CFF" stroke-width="4.6"/>
<text transform="translate(917.8 1276) rotate(-90)" font-size="22.4" fill="#000" class="bk" text-anchor="middle">Alpha Diversity Measure</text>
<text x="1289" y="1746.4" font-size="22.3" fill="#000" class="bk" text-anchor="middle">Status</text>
<text x="1619.9" y="1224.9" font-size="22.2" fill="#000" class="bk">Status</text>
<rect x="1619.5" y="1238.2" width="35.1" height="106.4" fill="#f2f2f2"/>
<line x1="1636.65" x2="1636.65" y1="1242.3" y2="1270.7" stroke="#F8766D" stroke-width="2.4"/>
<rect x="1623.35" y="1247.65" width="26.6" height="17.7" fill="#fff" stroke="#F8766D" stroke-width="2.3" stroke-linejoin="round"/>
<line x1="1623.35" x2="1649.95" y1="1256.5" y2="1256.5" stroke="#F8766D" stroke-width="2.7"/>
<text x="1665.8" y="1262.1" font-size="18" fill="#000" class="bk">WRR-AS</text>
<line x1="1636.65" x2="1636.65" y1="1277.77" y2="1306.17" stroke="#00BA38" stroke-width="2.4"/>
<rect x="1623.35" y="1283.12" width="26.6" height="17.7" fill="#fff" stroke="#00BA38" stroke-width="2.3" stroke-linejoin="round"/>
<line x1="1623.35" x2="1649.95" y1="1291.97" y2="1291.97" stroke="#00BA38" stroke-width="2.7"/>
<text x="1665.8" y="1297.57" font-size="18" fill="#000" class="bk">WRR-N</text>
<line x1="1636.65" x2="1636.65" y1="1313.24" y2="1341.64" stroke="#619CFF" stroke-width="2.4"/>
<rect x="1623.35" y="1318.59" width="26.6" height="17.7" fill="#fff" stroke="#619CFF" stroke-width="2.3" stroke-linejoin="round"/>
<line x1="1623.35" x2="1649.95" y1="1327.44" y2="1327.44" stroke="#619CFF" stroke-width="2.7"/>
<text x="1665.8" y="1333.04" font-size="18" fill="#000" class="bk">WRR-S</text>
<text x="1661.5" y="957" font-size="66" font-weight="bold" fill="#000" style="font-family:'Liberation Serif',serif">D</text>
</g>
</svg>
</body></html>
